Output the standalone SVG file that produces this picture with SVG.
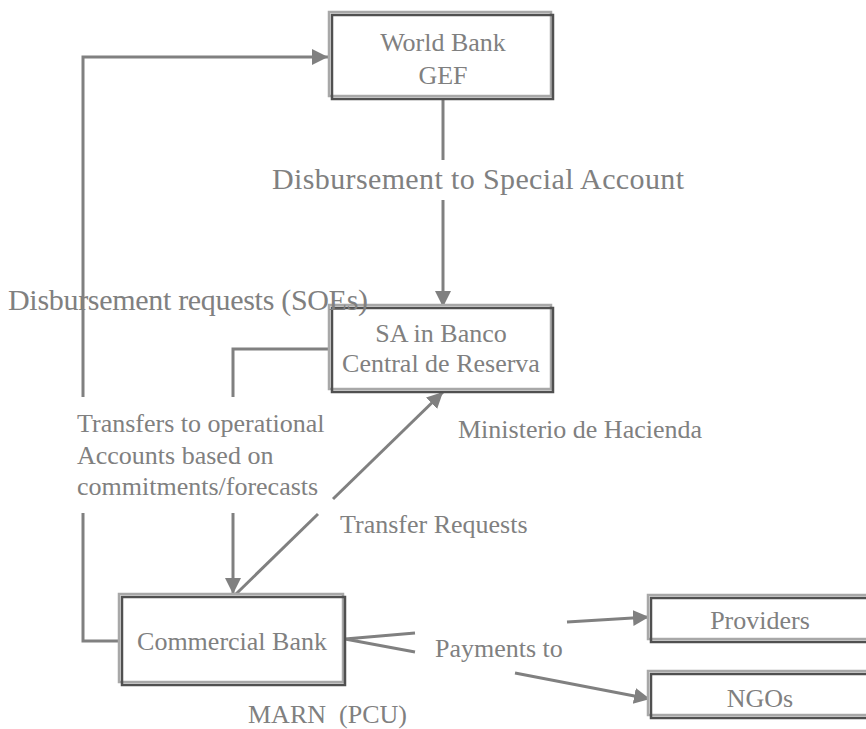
<svg xmlns="http://www.w3.org/2000/svg" width="866" height="729" viewBox="0 0 866 729">
<style>
text{font-family:"Liberation Serif","Times New Roman",serif;font-size:26px;fill:#808080}
.c{text-anchor:middle}
.big{font-size:30px}
.ln{stroke:#808080;stroke-width:3;fill:none}
.lt{fill:#fff;stroke:#a8a8a8;stroke-width:2.5}
.dk{fill:none;stroke:#505050;stroke-width:2.5}
</style>
<defs>
<marker id="ah" markerUnits="userSpaceOnUse" markerWidth="18" markerHeight="18" refX="16" refY="8" orient="auto">
<path d="M0,0 L16,8 L0,16 Z" fill="#808080"/>
</marker>
</defs>
<rect width="866" height="729" fill="#fff"/>
<g id="connectors">
<line class="ln" x1="443" y1="100" x2="443" y2="160"/>
<line class="ln" x1="443" y1="200" x2="443" y2="307" marker-end="url(#ah)"/>
<polyline class="ln" points="118,641 83,641 83,513"/>
<polyline class="ln" points="83,397 83,57 328,57" marker-end="url(#ah)"/>
<polyline class="ln" points="330,349 233,349 233,397"/>
<line class="ln" x1="233" y1="513" x2="233" y2="594" marker-end="url(#ah)"/>
<line class="ln" x1="236" y1="594" x2="318" y2="514"/>
<line class="ln" x1="333" y1="499" x2="443" y2="392" marker-end="url(#ah)"/>
<polyline class="ln" points="415,633 345,639 415,652"/>
<line class="ln" x1="567" y1="622" x2="649" y2="617" marker-end="url(#ah)"/>
<line class="ln" x1="515" y1="673" x2="650" y2="699" marker-end="url(#ah)"/>
</g>
<g id="world-bank">
<rect class="lt" x="329" y="12" width="222" height="84"/>
<rect class="dk" x="332" y="15" width="221" height="84"/>
<text class="c" x="443" y="51">World Bank</text>
<text class="c" x="443" y="84">GEF</text>
</g>
<g id="sa-banco">
<rect class="lt" x="329" y="305" width="222" height="84"/>
<rect class="dk" x="332" y="308" width="221" height="84"/>
<text class="c" x="441" y="342">SA in Banco</text>
<text class="c" x="441" y="372">Central de Reserva</text>
</g>
<g id="commercial-bank">
<rect class="lt" x="119" y="594" width="224" height="88"/>
<rect class="dk" x="122" y="597" width="223" height="88"/>
<text class="c" x="232" y="650">Commercial Bank</text>
</g>
<g id="providers">
<rect class="lt" x="648" y="595" width="224" height="44"/>
<rect class="dk" x="651" y="598" width="224" height="44"/>
<text class="c" x="760" y="629">Providers</text>
</g>
<g id="ngos">
<rect class="lt" x="648" y="671" width="224" height="44"/>
<rect class="dk" x="651" y="674" width="224" height="44"/>
<text class="c" x="760" y="707">NGOs</text>
</g>
<g id="labels">
<text class="big" x="272" y="189" textLength="412" lengthAdjust="spacing">Disbursement to Special Account</text>
<text class="big" x="8" y="310" textLength="360" lengthAdjust="spacing">Disbursement requests (SOEs)</text>
<text x="77" y="432">Transfers to operational</text>
<text x="77" y="464">Accounts based on</text>
<text x="77" y="495">commitments/forecasts</text>
<text x="458" y="438">Ministerio de Hacienda</text>
<text x="340" y="533">Transfer Requests</text>
<text x="435" y="657">Payments to</text>
<text x="248" y="723" xml:space="preserve">MARN  (PCU)</text>
</g>
</svg>
